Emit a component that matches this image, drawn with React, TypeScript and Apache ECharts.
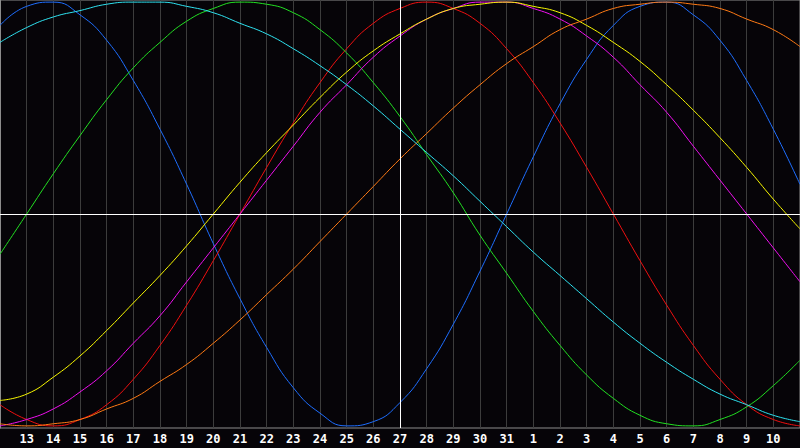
import { useEffect, useRef } from "react";
import * as echarts from "echarts";

// day labels along the bottom (first and last are at the plot edges and not shown)
const days = [
  "12", "13", "14", "15", "16", "17", "18", "19", "20", "21", "22", "23", "24", "25", "26",
  "27", "28", "29", "30", "31", "1", "2", "3", "4", "5", "6", "7", "8", "9", "10", "11",
];
const today = "27";

const physical = [89, 98, 100, 94, 82, 63, 40, 14, -14, -40, -63, -82, -94, -100, -98, -89, -73, -52, -27, 0, 27, 52, 73, 89, 98, 100, 94, 82, 63, 40, 14];
const emotional = [-90, -97, -100, -97, -90, -78, -62, -43, -22, 0, 22, 43, 62, 78, 90, 97, 100, 97, 90, 78, 62, 43, 22, 0, -22, -43, -62, -78, -90, -97, -100];
const intellectual = [-19, 0, 19, 37, 54, 69, 81, 91, 97, 100, 99, 95, 87, 76, 62, 46, 28, 10, -10, -28, -46, -62, -76, -87, -95, -99, -100, -97, -91, -81, -69];
const intuitive = [-100, -97, -92, -84, -74, -61, -48, -32, -16, 0, 16, 32, 48, 61, 74, 84, 92, 97, 100, 100, 97, 92, 84, 74, 61, 48, 32, 16, 0, -16, -32];
const aesthetic = [-88, -85, -77, -67, -55, -42, -29, -15, 0, 15, 29, 42, 55, 67, 77, 85, 92, 97, 99, 100, 98, 95, 89, 81, 72, 61, 49, 36, 22, 7, -7];
const awareness = [-99, -100, -99, -97, -92, -87, -79, -71, -61, -50, -38, -26, -13, 0, 13, 26, 38, 50, 61, 71, 79, 87, 92, 97, 99, 100, 99, 97, 92, 87, 79];
const spiritual = [81, 88, 93, 96, 99, 100, 100, 98, 95, 90, 85, 78, 70, 61, 51, 40, 29, 18, 6, -6, -18, -29, -40, -51, -61, -70, -78, -85, -90, -95, -98];

const cycles = [
  { name: "Physical", data: physical, color: "#1e6eff" },
  { name: "Emotional", data: emotional, color: "#f01010" },
  { name: "Intellectual", data: intellectual, color: "#22e022" },
  { name: "Intuitive", data: intuitive, color: "#f010f0" },
  { name: "Aesthetic", data: aesthetic, color: "#f8f800" },
  { name: "Awareness", data: awareness, color: "#ff7a14" },
  { name: "Spiritual", data: spiritual, color: "#2ee2f0" },
];

const Biorhythm = () => {
  const ref = useRef<HTMLDivElement>(null);

  useEffect(() => {
    if (!ref.current) return;
    const chart = echarts.init(ref.current, null, { renderer: "svg" });

    const series: any[] = cycles.map((c) => ({
      name: c.name,
      type: "line",
      data: c.data,
      smooth: true,
      showSymbol: false,
      lineStyle: { color: c.color, width: 1 },
      itemStyle: { color: c.color },
    }));

    series.push({
      type: "line",
      data: [],
      markLine: {
        silent: true,
        symbol: ["none", "none"],
        label: { show: false },
        lineStyle: { color: "#ffffff", width: 1, type: "solid" },
        data: [{ yAxis: 0 }, { xAxis: today }],
      },
    });

    chart.setOption({
      animation: false,
      backgroundColor: "#060408",
      grid: {
        left: 0,
        right: -1,
        top: 0,
        bottom: 20,
        show: true,
        borderColor: "#8c8c8c",
        borderWidth: 1,
      },
      xAxis: {
        type: "category",
        data: days,
        boundaryGap: false,
        axisLine: { show: true, lineStyle: { color: "#a0a0a0", width: 1 } },
        axisTick: { show: false, interval: 0 },
        splitLine: { show: true, interval: 0, lineStyle: { color: "#3c3c3c", width: 1 } },
        axisLabel: {
          interval: (index: number) => index > 0 && index < days.length - 1,
          color: "#ffffff",
          fontFamily: "DejaVu Sans Mono",
          fontWeight: "bold",
          fontSize: 12,
          margin: 5,
        },
      },
      yAxis: {
        type: "value",
        min: -101,
        max: 101,
        axisLine: { show: true, lineStyle: { color: "#8c8c8c" } },
        axisTick: { show: false },
        axisLabel: { show: false },
        splitLine: { show: false },
      },
      series,
    });

    return () => chart.dispose();
  }, []);

  return (
    <div
      ref={ref}
      style={{ position: "fixed", left: 0, top: 0, width: 800, height: 448 }}
    />
  );
};

export default function App() {
  return <Biorhythm />;
}
